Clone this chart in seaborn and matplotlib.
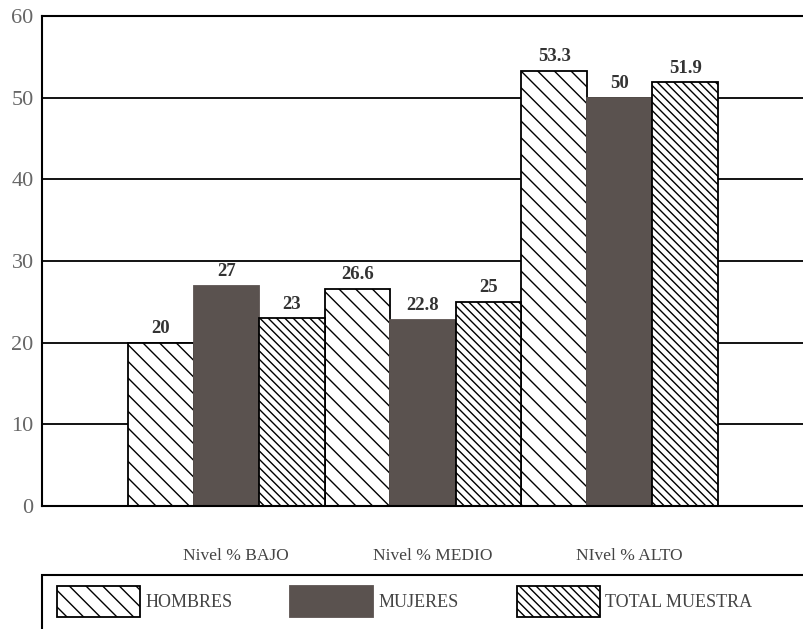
import pandas as pd
import matplotlib
matplotlib.use("Agg")
import matplotlib.pyplot as plt
from matplotlib.patches import Patch, Rectangle
from matplotlib.transforms import ScaledTranslation
import seaborn as sns

# data
niveles = ["Nivel % BAJO", "Nivel % MEDIO", "NIvel % ALTO"]
grupos = ["HOMBRES", "MUJERES", "TOTAL MUESTRA"]
hombres = [20, 26.6, 53.3]
mujeres = [27, 22.8, 50]
total = [23, 25, 51.9]

df = pd.DataFrame({
    "nivel": niveles * 3,
    "grupo": [g for g in grupos for _ in niveles],
    "valor": hombres + mujeres + total,
})

sns.set_style("white")
plt.rcParams["font.family"] = ["Liberation Serif", "DejaVu Serif"]
plt.rcParams["hatch.linewidth"] = 1.0

dark = "#5a524f"
fills = ["white", dark, "white"]
hatches = ["\\\\", "", "\\\\\\\\"]

fig = plt.figure(figsize=(8.04, 6.29), dpi=100)
ax = fig.add_axes([42 / 804, 1 - 506 / 629, 1 - 42 / 804, 490 / 629])

sns.barplot(data=df, x="nivel", y="valor", hue="grupo", order=niveles,
            hue_order=grupos, palette=fills, width=1.0, saturation=1,
            errorbar=None, edgecolor="black", linewidth=1.3, legend=False, ax=ax)

for cont, fc, h in zip(ax.containers, fills, hatches):
    for bar in cont:
        bar.set_hatch(h)
        bar.set_facecolor(fc)
        if fc == dark:
            bar.set_edgecolor(dark)
    ax.bar_label(cont, fmt="%g", padding=4, fontsize=13.5, fontweight="bold", color="#333")

ax.set_ylim(0, 60)
ax.set_xlim(-0.937, 2.937)
ax.set_yticks(range(0, 61, 10))
ax.yaxis.grid(True, color="black", linewidth=1.3)
ax.set_axisbelow(True)
ax.set_xlabel("")
ax.set_ylabel("")
ax.tick_params(axis="x", length=0, pad=30, labelsize=12.5, labelcolor="#444")
ax.tick_params(axis="y", length=0, pad=6, labelsize=16, labelcolor="#666")
# category labels sit a little right of the group centres
shift = ScaledTranslation(10 / 100, 0, fig.dpi_scale_trans)
for lab in ax.get_xticklabels():
    lab.set_transform(lab.get_transform() + shift)
for side in ["left", "bottom", "top"]:
    ax.spines[side].set_color("black")
    ax.spines[side].set_linewidth(1.5)
ax.spines["right"].set_visible(False)

# legend box runs off the bottom of the page
fig.patches.append(Rectangle((42 / 804, -0.05), 1, 0.05 + 1 - 575 / 629,
                             transform=fig.transFigure, facecolor="none",
                             edgecolor="black", linewidth=1.5))
handles = [Patch(facecolor=fc, edgecolor="black" if fc == "white" else dark,
                 hatch=h, linewidth=1.3) for fc, h in zip(fills, hatches)]
leg = fig.legend(handles, grupos, loc="upper left", ncol=3,
                 bbox_to_anchor=(57 / 804, 1 - 586 / 629),
                 borderaxespad=0, borderpad=0, fontsize=13, handlelength=4.6,
                 handleheight=2.3, handletextpad=0.3, columnspacing=3.2,
                 frameon=False)
for t in leg.get_texts():
    t.set_color("#444")

fig.savefig("out.png", dpi=100)
